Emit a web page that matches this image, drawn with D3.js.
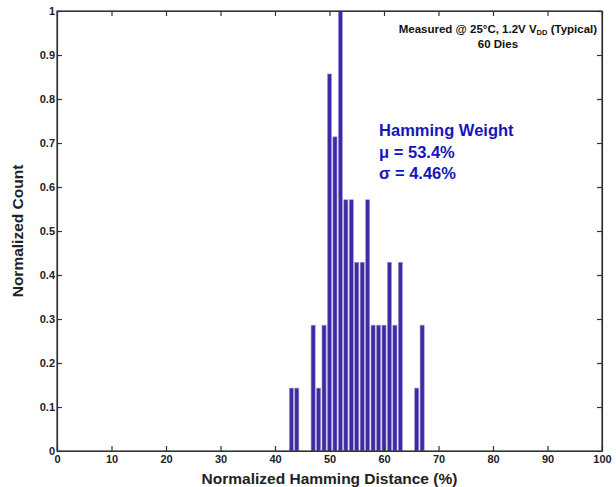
<!DOCTYPE html>
<html lang="en">
<head>
    <meta charset="UTF-8">
    <title>Normalized Hamming Distance</title>
    <script src="https://d3js.org/d3.v7.min.js"></script>
    <style>
        body {
            margin: 0;
            background: #fff;
            font-family: "Liberation Sans", Arial, sans-serif;
        }
        .tick text {
            font-size: 11px;
            font-weight: bold;
            fill: #222;
        }
        .axis-title {
            font-size: 15.5px;
            font-weight: bold;
            fill: #222;
        }
        .note {
            font-size: 11.5px;
            font-weight: bold;
            fill: #111;
        }
        .stats {
            font-size: 16.5px;
            font-weight: bold;
            fill: #1616b8;
        }
    </style>
</head>
<body>
    <svg width="616" height="487"></svg>

    <script>
        // Histogram bins (percent) and normalized counts
        const bins = [43, 44, 47, 48, 49, 50, 51, 52, 53, 54, 55, 56, 57, 58, 59, 60, 61, 62, 63, 66, 67];
        const counts = [0.143, 0.143, 0.286, 0.143, 0.286, 0.857, 0.714, 1.0, 0.571, 0.571, 0.429, 0.429,
                        0.571, 0.286, 0.286, 0.286, 0.429, 0.286, 0.429, 0.143, 0.286];
        const xTicks = d3.range(0, 101, 10);
        const yTicks = d3.range(0, 11).map(d => d / 10);

        const margin = {top: 11, right: 14, bottom: 36, left: 57};
        const width = 616 - margin.left - margin.right;
        const height = 487 - margin.top - margin.bottom;

        const svg = d3.select("svg")
            .append("g")
            .attr("transform", `translate(${margin.left},${margin.top})`);

        const x = d3.scaleLinear().domain([0, 100]).range([0, width]);
        const y = d3.scaleLinear().domain([0, 1]).range([height, 0]);

        // Bars
        const barW = (x(1) - x(0)) * 0.76;
        svg.selectAll(".bar")
            .data(bins)
            .enter()
            .append("rect")
            .attr("class", "bar")
            .attr("x", d => x(d) - barW / 2)
            .attr("y", (d, i) => y(counts[i]))
            .attr("width", barW)
            .attr("height", (d, i) => height - y(counts[i]))
            .attr("fill", "#3f2aa6")
            .attr("stroke", "#a39ed6")
            .attr("stroke-width", 0.6);

        // Axes (MATLAB-like box with inward ticks)
        const xAxis = d3.axisBottom(x).tickValues(xTicks).tickSizeInner(-5).tickSizeOuter(0).tickPadding(4);
        const yAxis = d3.axisLeft(y).tickValues(yTicks).tickSizeInner(-5).tickSizeOuter(0).tickPadding(2)
            .tickFormat(d => d === 0 ? "0" : d === 1 ? "1" : d3.format(".1f")(d));

        svg.append("g").attr("transform", `translate(0,${height})`).call(xAxis);
        svg.append("g").call(yAxis);
        svg.append("g").call(d3.axisTop(x).tickValues(xTicks).tickSizeInner(-5).tickSizeOuter(0).tickFormat(""));
        svg.append("g").attr("transform", `translate(${width},0)`)
            .call(d3.axisRight(y).tickValues(yTicks).tickSizeInner(-5).tickSizeOuter(0).tickFormat(""));

        svg.selectAll(".domain, .tick line").attr("stroke", "#333").attr("stroke-width", 1.2);

        svg.append("rect")
            .attr("width", width).attr("height", height)
            .attr("fill", "none").attr("stroke", "#333").attr("stroke-width", 1.2);

        // Axis titles
        svg.append("text")
            .attr("class", "axis-title")
            .attr("x", width / 2)
            .attr("y", height + 33)
            .attr("text-anchor", "middle")
            .text("Normalized Hamming Distance (%)");

        svg.append("text")
            .attr("class", "axis-title")
            .attr("transform", `translate(-34,${height / 2}) rotate(-90)`)
            .attr("text-anchor", "middle")
            .text("Normalized Count");

        // Annotations
        const note = svg.append("text")
            .attr("class", "note")
            .attr("x", x(80.9))
            .attr("y", 22)
            .attr("text-anchor", "middle");
        note.append("tspan").text("Measured @ 25°C, 1.2V V");
        note.append("tspan").attr("font-size", "7.5px").attr("dy", 2).text("DD");
        note.append("tspan").attr("dy", -2).text(" (Typical)");

        svg.append("text")
            .attr("class", "note")
            .attr("x", x(80.9))
            .attr("y", 37)
            .attr("text-anchor", "middle")
            .text("60 Dies");

        const stats = ["Hamming Weight", "μ = 53.4%", "σ = 4.46%"];
        svg.selectAll(".stats")
            .data(stats)
            .enter()
            .append("text")
            .attr("class", "stats")
            .attr("x", x(59.1))
            .attr("y", (d, i) => 125 + i * 21.5)
            .text(d => d);
    </script>
</body>
</html>
